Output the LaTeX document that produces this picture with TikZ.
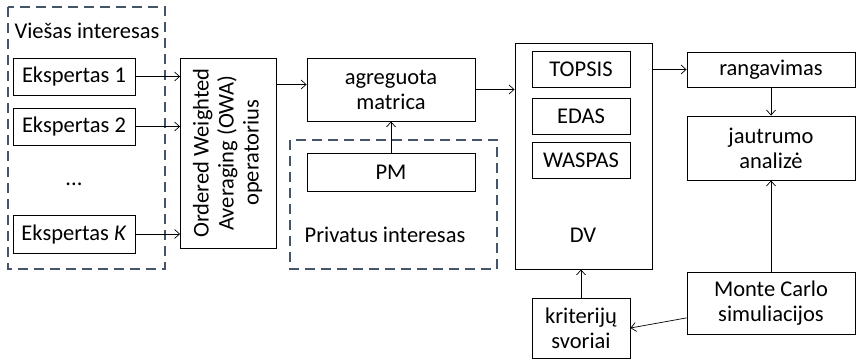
\documentclass[tikz,border=0pt]{standalone}
\usepackage{fontspec}
\setmainfont{Carlito}
\usetikzlibrary{arrows.meta,positioning}
\definecolor{grpblue}{HTML}{44546A}

\begin{document}
\begin{tikzpicture}[x=1pt,y=-1pt,
  box/.style={draw,line width=0.9pt,inner sep=0pt,align=center,font=\fontsize{22.5}{25}\selectfont},
  txt/.style={inner sep=0pt,font=\fontsize{22.5}{25}\selectfont},
  group/.style={draw=grpblue,line width=1.8pt,dash pattern=on 10pt off 6pt},
  link/.style={-{Straight Barb[length=5pt,width=9pt]},line width=0.7pt}]
  \useasboundingbox (0,0) rectangle (857,361);
  % viesas interesas
  \draw[group] (8,7) rectangle (165,269); % grupes remelis
  \node[txt] (viesas) at (87,31) {Viešas interesas};
  \node[box,minimum width=122,minimum height=37] (eksp1) at (74,76.5) {Ekspertas 1};
  \node[box,minimum width=122,minimum height=37] (eksp2) at (74,126.5) {Ekspertas 2};
  \node[txt] (taskai) at (74,184) {...};
  \node[box,minimum width=122,minimum height=38] (ekspK) at (74,234) {Ekspertas \textit{K}};
  \node[box,minimum width=96,minimum height=190] (owa) at (228.5,153)
    {\rotatebox{90}{\begin{tabular}{@{}c@{}}Ordered Weighted\\Averaging (OWA)\\operatorius\end{tabular}}};
  % privatus interesas
  \node[box,minimum width=168,minimum height=63] (agr) at (391,89.5) {agreguota\\matrica};
  \draw[group] (290,140) rectangle (497,269); % grupes remelis
  \node[box,minimum width=168,minimum height=38] (pm) at (391,172) {PM};
  \node[txt] (privatus) at (385,235) {Privatus interesas};
  % sprendimu metodai
  \node[box,minimum width=137,minimum height=226] (dv) at (583.5,156) {};
  \node[box,minimum width=98,minimum height=36] (topsis) at (581,69) {TOPSIS};
  \node[box,minimum width=98,minimum height=36] (edas) at (581,116) {EDAS};
  \node[box,minimum width=98,minimum height=36] (waspas) at (581,160) {WASPAS};
  \node[txt] (dvlbl) at (583,235) {DV};
  \node[box,minimum width=98,minimum height=60] (krit) at (581,328) {kriterijų\\svoriai};
  % rezultatai
  \node[box,minimum width=168,minimum height=35] (rang) at (771,69.5) {rangavimas};
  \node[box,minimum width=168,minimum height=64] (jaut) at (771,148) {jautrumo\\analizė};
  \node[box,minimum width=168,minimum height=62] (mc) at (771,303) {Monte Carlo\\simuliacijos};
  % rodykles
  \draw[link] (eksp1.east) -- (eksp1.east -| owa.west);
  \draw[link] (eksp2.east) -- (eksp2.east -| owa.west);
  \draw[link] (ekspK.east) -- (ekspK.east -| owa.west);
  \draw[link] ([yshift=5pt]agr.west -| owa.east) -- ([yshift=5pt]agr.west);
  \draw[link] (pm.north) -- (agr.south);
  \draw[link] (agr.east) -- (agr.east -| dv.west);
  \draw[link] (rang.west -| dv.east) -- (rang.west);
  \draw[link] (rang.south) -- (jaut.north);
  \draw[link] (mc.north) -- (jaut.south);
  \draw[link] (krit.north) -- (krit.north |- dv.south);
  \draw[link] (mc.190) -- (krit.east);
\end{tikzpicture}
\end{document}
